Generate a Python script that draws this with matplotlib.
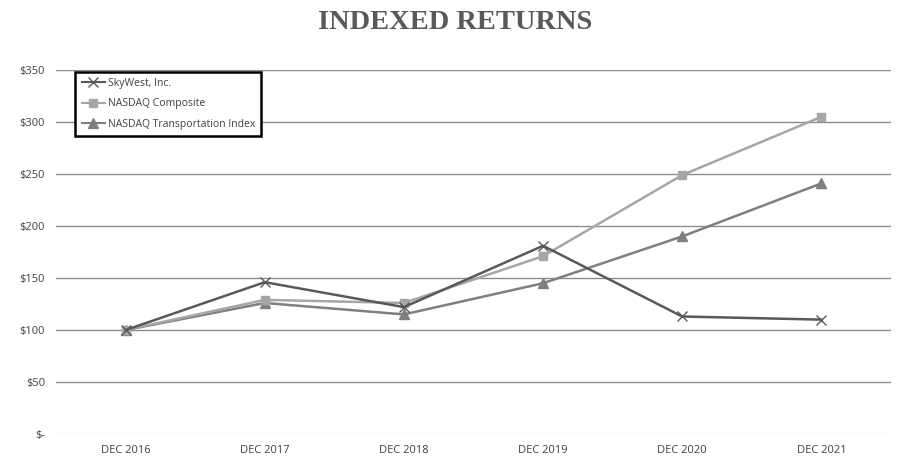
import matplotlib.pyplot as plt

# data
years = ['DEC 2016', 'DEC 2017', 'DEC 2018', 'DEC 2019', 'DEC 2020', 'DEC 2021']
skywest = [100, 146, 122, 181, 113, 110]
nasdaq_comp = [100, 129, 126, 171, 249, 305]
nasdaq_trans = [100, 126, 115, 145, 190, 241]
y_ticks = [0, 50, 100, 150, 200, 250, 300, 350]
y_labels = ['$-', '$50', '$100', '$150', '$200', '$250', '$300', '$350']

fig = plt.figure(figsize=(9.11, 4.68), dpi=100)
ax = fig.add_axes([0.0615, 0.0726, 0.9165, 0.7778])

x = range(len(years))
ax.plot(x, skywest, color='#595959', lw=1.8, marker='x', ms=7, mew=1.0,
        label='SkyWest, Inc.', zorder=5)
ax.plot(x, nasdaq_comp, color='#a6a6a6', lw=1.8, marker='s', ms=6,
        label='NASDAQ Composite', zorder=4)
ax.plot(x, nasdaq_trans, color='#7f7f7f', lw=1.8, marker='^', ms=7,
        label='NASDAQ Transportation Index', zorder=3)

ax.set_xlim(-0.5, len(years) - 0.5)
ax.set_ylim(0, 350)
ax.set_yticks(y_ticks)
ax.set_yticklabels(y_labels, fontsize=8, color='#404040', family='Open Sans')
ax.set_xticks(list(x))
ax.set_xticklabels(years, fontsize=8, color='#404040', family='Open Sans')
ax.tick_params(length=0, pad=8)

# gridlines
for t in y_ticks[1:]:
    ax.axhline(t, color='#8c8c8c', lw=1, zorder=1)
ax.axhline(0, color='#d9d9d9', lw=1, zorder=1)
for s in ax.spines.values():
    s.set_visible(False)

leg = ax.legend(loc='upper left', bbox_to_anchor=(0.017, 1.01), fancybox=False,
                prop={'family': 'Open Sans', 'size': 7.5}, borderpad=0.6,
                labelspacing=0.9, handlelength=2.2, handletextpad=0.3,
                edgecolor='black', framealpha=1)
leg.get_frame().set_linewidth(1.8)
for t in leg.get_texts():
    t.set_color('#404040')
for h in leg.get_lines():
    h.set_linewidth(1.5)

fig.text(0.5, 0.952, 'INDEXED RETURNS', ha='center', va='center', fontsize=20.5,
         fontweight='bold', family='Liberation Serif', color='#595959')

fig.savefig('out.png', dpi=100)
